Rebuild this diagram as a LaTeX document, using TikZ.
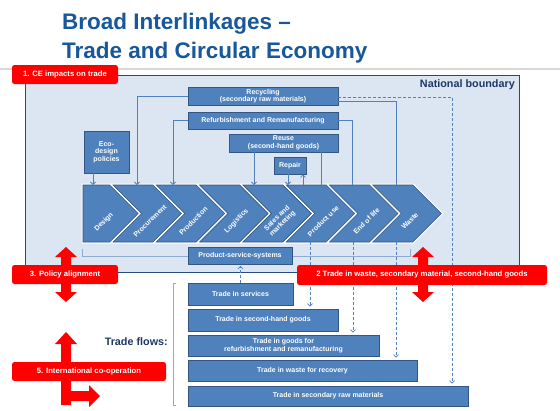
\documentclass[tikz,border=0pt]{standalone}
\usepackage{fontspec}
\setmainfont{Liberation Sans}
\usepackage{tikz}
\usetikzlibrary{arrows.meta}
\newcommand{\titleFont}[0]{\fontsize{22.5}{27}\selectfont\bfseries}
\newcommand{\labelFont}[0]{\fontsize{10.8}{12}\selectfont\bfseries}
\newcommand{\boxFont}[0]{\fontsize{7}{7.6}\selectfont\bfseries}
\newcommand{\redFont}[0]{\fontsize{7.7}{9}\selectfont\bfseries}
\newcommand{\chevPitch}[0]{43.3}
\definecolor{titleblue}{RGB}{24,88,154}
\definecolor{navy}{RGB}{31,56,100}
\definecolor{boxblue}{RGB}{79,129,189}
\definecolor{boxline}{RGB}{52,86,130}
\definecolor{paleblue}{RGB}{220,230,242}
\definecolor{frameblue}{RGB}{41,74,125}
\definecolor{linkblue}{RGB}{79,129,189}
\definecolor{bracketblue}{RGB}{141,172,210}
\definecolor{alertred}{RGB}{255,0,0}

\begin{document}
\begin{tikzpicture}[x=1pt, y=-1pt]
  \tikzset{
    bluebox/.style={draw=boxline, fill=boxblue, text=white, font=\boxFont,
      align=center, inner sep=0pt, line width=0.7pt},
    redbox/.style={fill=alertred, rounded corners=2.5pt, text=white,
      font=\redFont, inner sep=0pt},
    link/.style={draw=linkblue, line width=0.8pt},
    dashlink/.style={link, dash pattern=on 3pt off 2pt},
    arrowed/.style={-{Straight Barb[length=2.5pt,width=5pt]}},
    bracketline/.style={draw=bracketblue, line width=0.7pt},
    chevtext/.style={text=white, font=\boxFont, align=center, rotate=45, inner sep=0pt}
  }
  \useasboundingbox (0,0) rectangle (560,410);
  \fill[white] (0,0) rectangle (560,410);

  % title
  \node[anchor=base west, font=\titleFont, text=titleblue, inner sep=0pt] (title1) at (62,29) {Broad Interlinkages --};
  \node[anchor=base west, font=\titleFont, text=titleblue, inner sep=0pt] (title2) at (62,58) {Trade and Circular Economy};
  \draw[gray!30, line width=1.5pt] (0,69) -- (560,69);

  % national boundary
  \node[draw=frameblue, fill=paleblue, line width=0.9pt, minimum width=494pt, minimum height=197pt,
    inner sep=0pt, anchor=north west] (nation) at (25,75) {};
  \node[anchor=east, font=\labelFont, text=navy, inner sep=0pt] (natlabel) at (515,85) {National boundary};

  \node[bluebox, minimum width=150pt, minimum height=18pt] (recyc) at (263,96) {Recycling\\(secondary raw materials)};
  \node[bluebox, minimum width=150pt, minimum height=17pt] (refurb) at (263,120.5) {Refurbishment and Remanufacturing};
  \node[bluebox, minimum width=109pt, minimum height=18pt] (reuse) at (283.5,143) {Reuse\\(second-hand goods)};
  \node[bluebox, minimum width=32pt, minimum height=17pt] (repair) at (290,165.5) {Repair};
  \node[bluebox, minimum width=45pt, minimum height=42pt] (eco) at (106.5,152) {Eco-\\design\\policies};

  % value chain
  \draw[bracketline] (82,249) |- (410,256) -- (410,249);
  \draw[white, line width=3pt, fill=boxblue] (83,185) -- (109.7,185) -- (138.2,213.5) -- (109.7,242) -- (83,242) -- cycle;
  \draw[boxline, line width=0.6pt, fill=boxblue] (83,185) -- (109.7,185) -- (138.2,213.5) -- (109.7,242) -- (83,242) -- cycle;
  \node[chevtext] (chev0) at (104,222) {Design};
  \foreach \lab [count=\i] in {Procurement, Production, Logistics, {Sales and\\marketing}, Product use, End of life, Waste} {
    \pgfmathsetmacro{\xa}{113+\chevPitch*(\i-1)}
    \draw[white, line width=3pt] (\xa,185) -- ++(40,0) -- ++(28.5,28.5) -- ++(-28.5,28.5) -- ++(-40,0) -- ++(28.5,-28.5) -- cycle;
    \draw[boxline, line width=0.6pt, fill=boxblue] (\xa,185) -- ++(40,0) -- ++(28.5,28.5) -- ++(-28.5,28.5) -- ++(-40,0) -- ++(28.5,-28.5) -- cycle;
    \node[chevtext] (chev\i) at (\xa+37,221) {\lab};
  }
  \node[bluebox, minimum width=104pt, minimum height=17pt] (pss) at (240,255.5) {Product-service-systems};

  \coordinate (ecoIn) at (93,185);
  \coordinate (procIn) at (137,185);
  \coordinate (prodIn) at (173,185);
  \coordinate (salesIn) at (254,185);
  \coordinate (repairIn) at (288,185);
  \coordinate (repairOut) at (303,185);
  \coordinate (useUp) at (321,185);
  \coordinate (eolUp) at (352,185);
  \coordinate (wasteUp) at (396,185);
  \coordinate (useOut) at (310,242);
  \coordinate (eolOut) at (353,242);
  \coordinate (wasteOut) at (396,242);
  \coordinate (srmDrop) at (452,97);

  \draw[link, arrowed] (eco.south -| ecoIn) -- (ecoIn);
  \draw[link, arrowed] (recyc.west) -| (procIn);
  \draw[link, arrowed] (refurb.west) -| (prodIn);
  \draw[link, arrowed] (reuse.south -| salesIn) -- (salesIn);
  \draw[link, arrowed] (repair.south -| repairIn) -- (repairIn);
  \draw[link, arrowed] (repairOut) -- (repair.south -| repairOut);
  \draw[link] (reuse.south -| useUp) -- (useUp);
  \draw[link] (refurb.east) -| (eolUp);
  \draw[link] ([yshift=-5pt]recyc.east) -| (wasteUp);

  % trade flows
  \draw[bracketline] (176,283) -| (173,405) -- (176,405);
  \node[anchor=east, font=\labelFont, text=navy, inner sep=0pt] (flowlabel) at (168,342) {Trade flows:};
  \node[bluebox, minimum width=105pt, minimum height=22pt] (tsvc) at (240.5,294) {Trade in services};
  \node[bluebox, minimum width=150pt, minimum height=22pt] (tshg) at (263,320) {Trade in second-hand goods};
  \node[bluebox, minimum width=191pt, minimum height=21pt] (trefurb) at (283.5,345.5) {Trade in goods for\\refurbishment and remanufacturing};
  \node[bluebox, minimum width=229pt, minimum height=21pt] (twaste) at (302.5,370.5) {Trade in waste for recovery};
  \node[bluebox, minimum width=280pt, minimum height=20pt] (tsrm) at (328,396) {Trade in secondary raw materials};

  \draw[dashlink, arrowed] (useOut) -- ([yshift=2pt]tshg.north -| useOut);
  \draw[dashlink, arrowed] (eolOut) -- ([yshift=2pt]trefurb.north -| eolOut);
  \draw[dashlink, arrowed] (wasteOut) -- ([yshift=2pt]twaste.north -| wasteOut);
  \draw[dashlink, arrowed] (recyc.east |- srmDrop) -- (srmDrop) -- ([yshift=2pt]tsrm.north -| srmDrop);
  \draw[dashlink, arrowed] (tsvc.north) -- ([yshift=-1.5pt]tsvc.north |- pss.south);

  % policy levers
  \foreach \c in {66,423} {
    \fill[alertred] (\c,247) -- ++(11,10) -- ++(-6,0) -- ++(0,35) -- ++(6,0) -- (\c,302)
      -- ++(-11,-10) -- ++(6,0) -- ++(0,-35) -- ++(-6,0) -- cycle;
  }
  \fill[alertred] (66,332) -- (77,344) -- (71,344) -- (71,391) -- (89,391) -- (89,385) -- (100,396)
    -- (89,407) -- (89,401) -- (71,401) -- (71,405) -- (61,405) -- (61,344) -- (55,344) -- cycle;
  \node[redbox, minimum width=106pt, minimum height=19pt] (lever1) at (65,74.5) {1. CE impacts on trade};
  \node[redbox, minimum width=250pt, minimum height=20pt] (lever2) at (422,275) {2 Trade in waste, secondary material, second-hand goods};
  \node[redbox, minimum width=106pt, minimum height=19pt] (lever3) at (65,274.5) {3. Policy alignment};
  \node[redbox, minimum width=154pt, minimum height=19pt] (lever5) at (89,371.5) {5. International co-operation};
\end{tikzpicture}
\end{document}
